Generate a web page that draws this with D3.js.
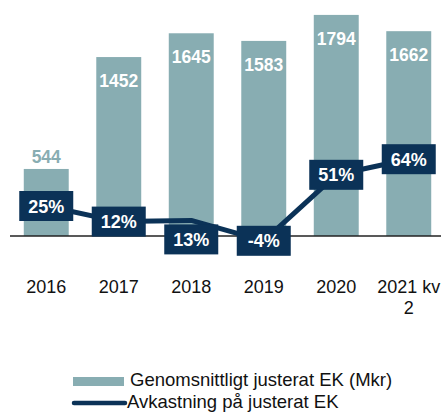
<!DOCTYPE html>
<html>
<head>
<meta charset="utf-8">
<script src="https://cdn.jsdelivr.net/npm/d3@7"></script>
<style>
body { margin: 0; background: #fff; }
svg { font-family: "Liberation Sans", Arial, sans-serif; }
</style>
</head>
<body>
<div id="chart"></div>
<script>
var categories = ['2016', '2017', '2018', '2019', '2020', '2021 kv 2'];
var equity = [544, 1452, 1645, 1583, 1794, 1662];
var returns = [25, 12, 13, -4, 51, 64];

var width = 441, height = 412;
var baseline = 236;
var barColor = '#88adb2';
var navy = '#0b3257';

var svg = d3.select('#chart').append('svg')
	.attr('width', width)
	.attr('height', height);

var x = d3.scaleBand()
	.domain(categories)
	.range([10, 445])
	.paddingInner(0.38)
	.paddingOuter(0.19);

var y = d3.scaleLinear()
	.domain([0, 1915])
	.range([baseline, 0]);

// return line uses its own axis, zero sits on the bar baseline
var yRet = d3.scaleLinear()
	.domain([0, 100])
	.range([baseline, baseline - 120]);

var cx = function (c) { return x(c) + x.bandwidth() / 2; };

// bars
svg.selectAll('rect.bar')
	.data(equity)
	.enter().append('rect')
	.attr('class', 'bar')
	.attr('x', function (d, i) { return x(categories[i]); })
	.attr('y', function (d) { return y(d); })
	.attr('width', x.bandwidth())
	.attr('height', function (d) { return baseline - y(d); })
	.attr('fill', barColor);

// bar labels: inside the bar, or above it when the bar is short
svg.selectAll('text.barval')
	.data(equity)
	.enter().append('text')
	.attr('class', 'barval')
	.attr('x', function (d, i) { return cx(categories[i]); })
	.attr('y', function (d) { return d < 1000 ? y(d) - 6 : y(d) + 30; })
	.attr('text-anchor', 'middle')
	.attr('font-size', 17.5)
	.attr('font-weight', 'bold')
	.attr('fill', function (d) { return d < 1000 ? barColor : '#fff'; })
	.text(function (d) { return d; });

// baseline
svg.append('line')
	.attr('x1', 10).attr('x2', width)
	.attr('y1', baseline).attr('y2', baseline)
	.attr('stroke', '#222')
	.attr('stroke-width', 1.5);

// x axis labels
var xAxis = d3.axisBottom(x).tickSize(0).tickPadding(0);
var gx = svg.append('g')
	.attr('transform', 'translate(0,' + (baseline + 44) + ')')
	.call(xAxis)
	.attr('font-size', 18)
	.attr('font-family', '"Liberation Sans", Arial, sans-serif');
gx.select('.domain').remove();
gx.selectAll('text')
	.attr('fill', '#111')
	.each(function (d) {
		var t = d3.select(this);
		if (d === '2021 kv 2') {
			t.text(null);
			t.append('tspan').attr('x', 0).text('2021 kv');
			t.append('tspan').attr('x', 0).attr('dy', '1.2em').text('2');
		}
	});

// return line
var line = d3.line()
	.x(function (d, i) { return cx(categories[i]); })
	.y(function (d) { return yRet(d); });

svg.append('path')
	.datum(returns)
	.attr('d', line)
	.attr('fill', 'none')
	.attr('stroke', navy)
	.attr('stroke-width', 5)
	.attr('stroke-linejoin', 'round');

// return labels in dark boxes
var boxW = 54, boxH = 30;
var labelOffset = [0, 0, 19, 0, 0, 0];
var lab = svg.selectAll('g.retlab')
	.data(returns)
	.enter().append('g')
	.attr('class', 'retlab')
	.attr('transform', function (d, i) {
		return 'translate(' + cx(categories[i]) + ',' + (yRet(d) + labelOffset[i]) + ')';
	});
lab.append('rect')
	.attr('x', -boxW / 2)
	.attr('y', -boxH / 2)
	.attr('width', boxW)
	.attr('height', boxH)
	.attr('fill', navy);
lab.append('text')
	.attr('text-anchor', 'middle')
	.attr('y', 6.5)
	.attr('font-size', 18)
	.attr('font-weight', 'bold')
	.attr('fill', '#fff')
	.text(function (d) { return d + '%'; });

// legend
var legend = svg.append('g');
legend.append('rect')
	.attr('x', 73).attr('y', 377)
	.attr('width', 51).attr('height', 9)
	.attr('fill', barColor);
legend.append('text')
	.attr('x', 130).attr('y', 386)
	.attr('font-size', 18.5)
	.attr('fill', '#111')
	.text('Genomsnittligt justerat EK (Mkr)');
legend.append('line')
	.attr('x1', 74).attr('x2', 125)
	.attr('y1', 403).attr('y2', 403)
	.attr('stroke', navy)
	.attr('stroke-width', 4.5)
	.attr('stroke-linecap', 'round');
legend.append('text')
	.attr('x', 127).attr('y', 408)
	.attr('font-size', 18.5)
	.attr('fill', '#111')
	.text('Avkastning på justerat EK');
</script>
</body>
</html>
